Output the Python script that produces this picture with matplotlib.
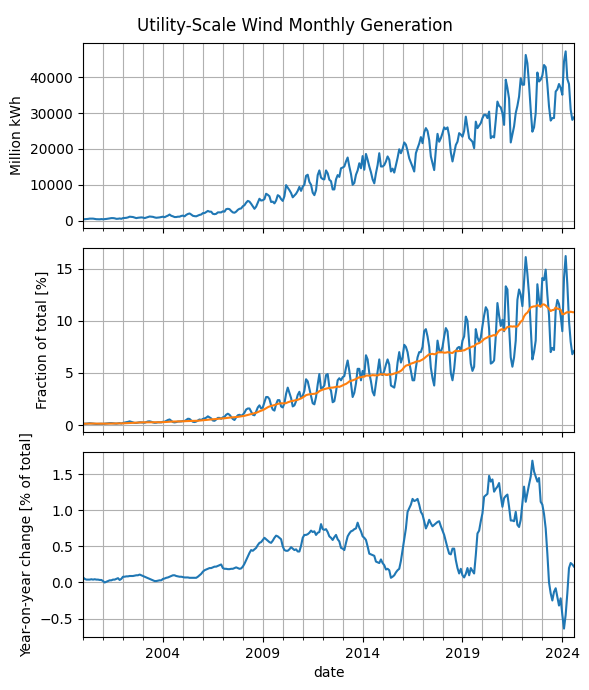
import pandas as pd
import matplotlib
matplotlib.use("Agg")
import matplotlib.pyplot as plt

# monthly utility-scale wind generation, million kWh (2000-01 .. 2024-08)
wind = [
    430, 400, 440, 480, 560, 560, 560, 480, 400, 380, 370, 430,  # 2000
    380, 420, 470, 560, 620, 700, 700, 640, 500, 520, 600, 510,  # 2001
    700, 740, 780, 900, 1100, 1050, 1000, 850, 700, 800, 850, 900,  # 2002
    850, 700, 850, 1000, 1150, 1100, 1050, 900, 800, 850, 900, 1000,  # 2003
    1100, 950, 1200, 1400, 1700, 1350, 1200, 1000, 1000, 1100, 1100, 1300,  # 2004
    1400, 1200, 1600, 1850, 2000, 1700, 1350, 1250, 1200, 1400, 1600, 1700,  # 2005
    2100, 2100, 2400, 2700, 2500, 2500, 1900, 1800, 1900, 2300, 2300, 2300,  # 2006
    2600, 2500, 3200, 3300, 3200, 2700, 2300, 2200, 2500, 3000, 3300, 3400,  # 2007
    4000, 4300, 5000, 5500, 5300, 4700, 4000, 3300, 3900, 5000, 6100, 5600,  # 2008
    5700, 6000, 7500, 7200, 6800, 5200, 5300, 4800, 5600, 7100, 6800, 6000,  # 2009
    5500, 6800, 9900, 9200, 8500, 7700, 6500, 7000, 7500, 8300, 9400, 8300,  # 2010
    9500, 10000, 12500, 12800, 10800, 10000, 7800, 7100, 8500, 12700, 14000, 12000,  # 2011
    11600, 11500, 14000, 13200, 11400, 11000, 8700, 8700, 11500, 12700, 12200, 14600,  # 2012
    14800, 15100, 16500, 17600, 15100, 13000, 10000, 10500, 12800, 14000, 16000, 14600,  # 2013
    18000, 14200, 18600, 17000, 15100, 13500, 11500, 10400, 13200, 15500, 18800, 15100,  # 2014
    15100, 15500, 16500, 17900, 17000, 13700, 14500, 13400, 15500, 17500, 19900, 18800,  # 2015
    20000, 21800, 21200, 19500, 17400, 16200, 15000, 13700, 18800, 20200, 21500, 23300,  # 2016
    21600, 24600, 25800, 25000, 22500, 17900, 16000, 14100, 19700, 24200, 22000, 23000,  # 2017
    24400, 26000, 25500, 26000, 23600, 19000, 16500, 18800, 21100, 22000, 24400, 24000,  # 2018
    23400, 25000, 29000, 26000, 23000, 22500, 22000, 20200, 27600, 25800, 26500, 27200,  # 2019
    28600, 29500, 29500, 28600, 30400, 23000, 23500, 23200, 28000, 33200, 32000, 31600,  # 2020
    30000, 26700, 39300, 37000, 34000, 21800, 24000, 26300, 30000, 32000, 34600, 39700,  # 2021
    37900, 37900, 46200, 43900, 38000, 30900, 24800, 26000, 30000, 41300, 38800, 39300,  # 2022
    40500, 43400, 42800, 38000, 31800, 27900, 28600, 28600, 36000, 36600, 38100, 37000,  # 2023
    35100, 44400, 47200, 39500, 38100, 31000, 28100, 28800,  # 2024
]

# wind share of total generation, %
frac = [
    0.14, 0.14, 0.15, 0.17, 0.19, 0.17, 0.16, 0.13, 0.12, 0.13, 0.13, 0.14,  # 2000
    0.13, 0.15, 0.16, 0.20, 0.20, 0.20, 0.18, 0.16, 0.15, 0.17, 0.20, 0.16,  # 2001
    0.22, 0.25, 0.27, 0.32, 0.37, 0.32, 0.27, 0.22, 0.22, 0.25, 0.28, 0.27,  # 2002
    0.25, 0.24, 0.30, 0.36, 0.37, 0.33, 0.27, 0.23, 0.24, 0.28, 0.28, 0.27,  # 2003
    0.33, 0.33, 0.42, 0.50, 0.55, 0.42, 0.30, 0.27, 0.30, 0.35, 0.35, 0.36,  # 2004
    0.40, 0.40, 0.50, 0.62, 0.60, 0.45, 0.33, 0.30, 0.35, 0.45, 0.55, 0.50,  # 2005
    0.60, 0.65, 0.72, 0.85, 0.75, 0.65, 0.45, 0.42, 0.55, 0.70, 0.70, 0.62,  # 2006
    0.75, 0.80, 1.00, 1.10, 1.00, 0.80, 0.60, 0.50, 0.75, 0.95, 1.00, 0.90,  # 2007
    1.00, 1.20, 1.50, 1.60, 1.60, 1.30, 1.00, 0.95, 1.30, 1.70, 1.90, 1.60,  # 2008
    1.70, 2.20, 2.70, 2.70, 2.50, 1.90, 1.50, 1.40, 2.00, 2.40, 2.40, 1.80,  # 2009
    1.70, 2.10, 3.00, 3.60, 3.10, 2.60, 1.80, 1.90, 2.30, 2.90, 3.20, 2.60,  # 2010
    2.80, 3.30, 4.40, 4.20, 3.50, 2.80, 2.10, 2.00, 2.70, 3.90, 4.90, 3.50,  # 2011
    3.60, 3.80, 4.80, 4.90, 3.65, 3.30, 2.20, 2.30, 3.20, 4.30, 4.50, 4.30,  # 2012
    4.60, 4.70, 5.50, 6.20, 5.20, 4.00, 2.70, 3.10, 4.00, 5.40, 5.40, 4.30,  # 2013
    5.20, 4.80, 6.70, 6.30, 5.00, 4.20, 3.20, 2.85, 4.00, 5.20, 6.30, 4.90,  # 2014
    4.80, 5.20, 5.80, 6.30, 5.80, 3.80, 3.70, 3.60, 4.50, 6.00, 7.00, 6.00,  # 2015
    6.50, 7.70, 7.50, 7.00, 6.00, 5.20, 4.30, 4.30, 5.50, 6.50, 7.00, 7.00,  # 2016
    7.50, 9.00, 9.20, 8.50, 7.50, 5.50, 4.50, 3.80, 6.00, 8.10, 7.20, 7.00,  # 2017
    7.50, 8.50, 9.30, 9.00, 7.30, 5.00, 4.30, 5.40, 7.10, 7.40, 7.50, 7.10,  # 2018
    8.10, 8.50, 10.40, 10.00, 7.90, 5.90, 5.20, 5.60, 9.20, 8.40, 8.00, 8.40,  # 2019
    9.50, 10.50, 11.30, 11.00, 9.20, 5.90, 6.00, 6.20, 8.50, 11.70, 10.50, 9.50,  # 2020
    10.10, 9.00, 13.30, 13.00, 9.40, 6.50, 5.60, 6.50, 8.10, 12.00, 13.00, 12.50,  # 2021
    11.40, 13.80, 16.10, 14.50, 12.50, 9.40, 6.30, 7.00, 8.10, 13.50, 12.00, 11.40,  # 2022
    14.10, 13.90, 14.90, 12.50, 10.50, 7.00, 7.40, 7.20, 11.00, 12.00, 11.60, 10.50,  # 2023
    9.00, 14.10, 16.20, 13.50, 10.00, 8.00, 6.80, 7.10,  # 2024
]

# year-on-year change of the 12-month mean share, percentage points
yoy = [
    0.07, 0.05, 0.04, 0.04, 0.04, 0.045, 0.04, 0.045, 0.04, 0.04, 0.035, 0.035,  # 2000
    0.02, 0.0, 0.01, 0.02, 0.03, 0.03, 0.04, 0.04, 0.05, 0.06, 0.035, 0.05,  # 2001
    0.08, 0.08, 0.085, 0.085, 0.09, 0.09, 0.09, 0.095, 0.10, 0.10, 0.11, 0.10,  # 2002
    0.09, 0.08, 0.07, 0.06, 0.05, 0.04, 0.03, 0.02, 0.02, 0.025, 0.03, 0.03,  # 2003
    0.05, 0.055, 0.065, 0.07, 0.08, 0.09, 0.10, 0.10, 0.09, 0.085, 0.08, 0.08,  # 2004
    0.075, 0.07, 0.07, 0.07, 0.065, 0.065, 0.065, 0.065, 0.065, 0.08, 0.10, 0.12,  # 2005
    0.15, 0.17, 0.18, 0.19, 0.20, 0.20, 0.21, 0.22, 0.22, 0.23, 0.24, 0.25,  # 2006
    0.20, 0.19, 0.19, 0.185, 0.185, 0.19, 0.19, 0.20, 0.21, 0.20, 0.19, 0.195,  # 2007
    0.22, 0.26, 0.31, 0.36, 0.41, 0.45, 0.44, 0.46, 0.48, 0.52, 0.55, 0.56,  # 2008
    0.59, 0.62, 0.60, 0.58, 0.56, 0.55, 0.58, 0.62, 0.65, 0.64, 0.62, 0.60,  # 2009
    0.50, 0.45, 0.44, 0.44, 0.46, 0.49, 0.47, 0.45, 0.46, 0.43, 0.43, 0.51,  # 2010
    0.62, 0.66, 0.66, 0.67, 0.69, 0.72, 0.70, 0.71, 0.66, 0.69, 0.70, 0.81,  # 2011
    0.74, 0.73, 0.74, 0.70, 0.64, 0.62, 0.59, 0.63, 0.66, 0.60, 0.57, 0.48,  # 2012
    0.47, 0.45, 0.55, 0.64, 0.68, 0.71, 0.72, 0.74, 0.75, 0.83, 0.76, 0.71,  # 2013
    0.64, 0.62, 0.59, 0.50, 0.40, 0.39, 0.38, 0.37, 0.29, 0.28, 0.27, 0.32,  # 2014
    0.27, 0.24, 0.18, 0.19, 0.17, 0.065, 0.08, 0.10, 0.14, 0.17, 0.19, 0.30,  # 2015
    0.45, 0.60, 0.75, 0.98, 1.03, 1.08, 1.16, 1.13, 1.14, 1.16, 1.08, 0.98,  # 2016
    0.94, 0.85, 0.75, 0.80, 0.87, 0.82, 0.78, 0.80, 0.82, 0.84, 0.85, 0.78,  # 2017
    0.72, 0.66, 0.57, 0.48, 0.40, 0.39, 0.47, 0.47, 0.31, 0.20, 0.125, 0.19,  # 2018
    0.10, 0.07, 0.12, 0.20, 0.10, 0.20, 0.16, 0.125, 0.38, 0.68, 0.72, 0.85,  # 2019
    0.96, 1.19, 1.21, 1.23, 1.48, 1.40, 1.43, 1.26, 1.30, 1.33, 1.38, 1.20,  # 2020
    1.05, 1.17, 1.20, 1.22, 1.05, 0.86, 0.86, 0.85, 0.98, 0.80, 0.77, 0.87,  # 2021
    1.10, 1.33, 1.12, 1.24, 1.36, 1.47, 1.69, 1.54, 1.47, 1.40, 1.45, 1.12,  # 2022
    1.08, 0.95, 0.75, 0.40, 0.0, -0.15, -0.25, -0.13, -0.08, -0.20, -0.32, -0.22,  # 2023
    -0.45, -0.64, -0.45, -0.15, 0.20, 0.27, 0.25, 0.22,  # 2024
]

dates = pd.date_range("2000-01-01", periods=len(wind), freq="MS", name="date")
df = pd.DataFrame({"wind": wind, "frac": frac, "yoy": yoy}, index=dates)
df["frac_12m"] = df["frac"].rolling(12, min_periods=1).mean()

fig, axes = plt.subplots(3, 1, sharex=True, figsize=(5.89, 6.9), dpi=100)
fig.subplots_adjust(left=0.141, right=0.9745, top=0.9377, bottom=0.0768, hspace=0.108)

df["wind"].plot(ax=axes[0])
df["frac"].plot(ax=axes[1])
df["frac_12m"].plot(ax=axes[1])
df["yoy"].plot(ax=axes[2])

axes[0].set_ylabel("Million kWh")
axes[1].set_ylabel("Fraction of total [%]")
axes[2].set_ylabel("Year-on-year change [% of total]")
axes[0].set_xlabel("")
axes[1].set_xlabel("")
axes[2].set_xlabel("date")

for ax in axes:
    ax.grid(True, which="both")

fig.suptitle("Utility-Scale Wind Monthly Generation", y=0.975)
fig.savefig("out.png", dpi=100)
